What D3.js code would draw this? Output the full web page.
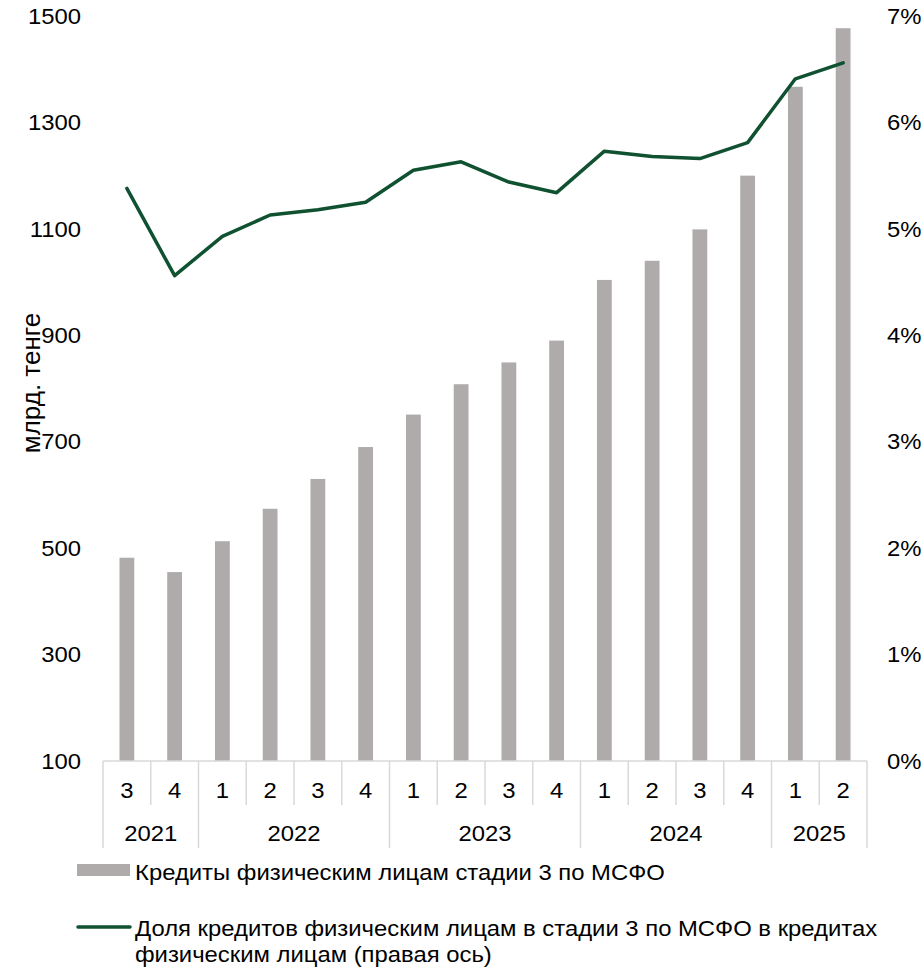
<!DOCTYPE html>
<html>
<head>
<meta charset="utf-8">
<script src="https://cdn.jsdelivr.net/npm/d3@7"></script>
<style>
  html, body { margin: 0; padding: 0; background: #fff; }
  svg text { font-family: "Liberation Sans", Arial, sans-serif; fill: #000; }
</style>
</head>
<body>
<div id="chart"></div>
<script>
// ---- data ----
const quarters = ["3","4","1","2","3","4","1","2","3","4","1","2","3","4","1","2"];
const years = ["2021","2022","2023","2024","2025"];
const yearCounts = [2, 4, 4, 4, 2];
const loansStage3 = [482, 455, 513, 574, 630, 690, 751, 808, 849, 890, 1004, 1040, 1099, 1200, 1367, 1477];
const shareStage3 = [5.38, 4.56, 4.93, 5.13, 5.18, 5.25, 5.55, 5.63, 5.44, 5.34, 5.73, 5.68, 5.66, 5.81, 6.41, 6.56];
const leftTicks = [100, 300, 500, 700, 900, 1100, 1300, 1500];
const rightTicks = [0, 1, 2, 3, 4, 5, 6, 7];
const yTitle = "млрд. тенге";
const legendBar = "Кредиты физическим лицам стадии 3 по МСФО";
const legendLine = ["Доля кредитов физическим лицам в стадии 3 по МСФО в кредитах", "физическим лицам (правая ось)"];

// ---- layout ----
const W = 924, H = 969;
const plotL = 103, plotR = 867, plotT = 16, plotB = 761;
const barColor = "#AEABAA", lineColor = "#0F5130", axisColor = "#D9D9D9";
const fs = 22.5, sx = 1.06;

const svg = d3.select("#chart").append("svg").attr("width", W).attr("height", H);

// text helper: place text at (px,py) with slight horizontal stretch
function place(sel, fx, fy) {
  return sel.attr("x", 0).attr("y", 0)
    .attr("transform", (d, i) => `translate(${fx(d, i)},${fy(d, i)}) scale(${sx},1)`)
    .attr("font-size", fs);
}

const x = d3.scaleBand().domain(d3.range(quarters.length)).range([plotL, plotR]).padding(0);
const yL = d3.scaleLinear().domain([100, 1500]).range([plotB, plotT]);
const yR = d3.scaleLinear().domain([0, 7]).range([plotB, plotT]);
const barW = x.bandwidth() * 0.31;

// bars
svg.append("g").selectAll("rect").data(loansStage3).join("rect")
  .attr("x", (d, i) => x(i) + x.bandwidth() / 2 - barW / 2)
  .attr("y", d => yL(d))
  .attr("width", barW)
  .attr("height", d => yL(100) - yL(d))
  .attr("fill", barColor);

// left axis labels
place(svg.append("g").selectAll("text").data(leftTicks).join("text"), () => 81, d => yL(d))
  .attr("text-anchor", "end").attr("dominant-baseline", "central").text(d => d);

// right axis labels
place(svg.append("g").selectAll("text").data(rightTicks).join("text"), () => 887, d => yR(d))
  .attr("text-anchor", "start").attr("dominant-baseline", "central").text(d => d + "%");

// y title
svg.append("text")
  .attr("transform", "translate(31,383) rotate(-90)")
  .attr("text-anchor", "middle").attr("dominant-baseline", "central")
  .attr("font-size", 26).text(yTitle);

// x axis: baseline and separators
const ax = svg.append("g").attr("stroke", axisColor).attr("stroke-width", 1.5);
ax.append("line").attr("x1", plotL).attr("x2", plotR).attr("y1", plotB).attr("y2", plotB);
const yearBoundaries = [0];
yearCounts.forEach(c => yearBoundaries.push(yearBoundaries[yearBoundaries.length - 1] + c));
const bx = i => (i < quarters.length ? x(i) : plotR);
d3.range(quarters.length + 1).forEach(i => {
  const isYear = yearBoundaries.includes(i);
  ax.append("line")
    .attr("x1", bx(i)).attr("x2", bx(i))
    .attr("y1", plotB).attr("y2", isYear ? 848 : 805);
});

// quarter labels
place(svg.append("g").selectAll("text").data(quarters).join("text"),
  (d, i) => x(i) + x.bandwidth() / 2, () => 790)
  .attr("text-anchor", "middle").attr("dominant-baseline", "central").text(d => d);

// year labels
place(svg.append("g").selectAll("text").data(years).join("text"),
  (d, i) => (bx(yearBoundaries[i]) + bx(yearBoundaries[i + 1])) / 2, () => 833)
  .attr("text-anchor", "middle").attr("dominant-baseline", "central").text(d => d);

// line
const line = d3.line().x((d, i) => x(i) + x.bandwidth() / 2).y(d => yR(d));
svg.append("path").datum(shareStage3)
  .attr("d", line).attr("fill", "none")
  .attr("stroke", lineColor).attr("stroke-width", 3.5)
  .attr("stroke-linejoin", "round").attr("stroke-linecap", "round");

// legend
svg.append("rect").attr("x", 77).attr("y", 864).attr("width", 53).attr("height", 12).attr("fill", barColor);
place(svg.append("text").datum(legendBar), () => 135, () => 880).text(d => d);
svg.append("line").attr("x1", 78).attr("x2", 130).attr("y1", 927).attr("y2", 927)
  .attr("stroke", lineColor).attr("stroke-width", 3.5).attr("stroke-linecap", "round");
place(svg.append("g").selectAll("text").data(legendLine).join("text"),
  () => 135, (d, i) => 936 + i * 26).text(d => d);
</script>
</body>
</html>
